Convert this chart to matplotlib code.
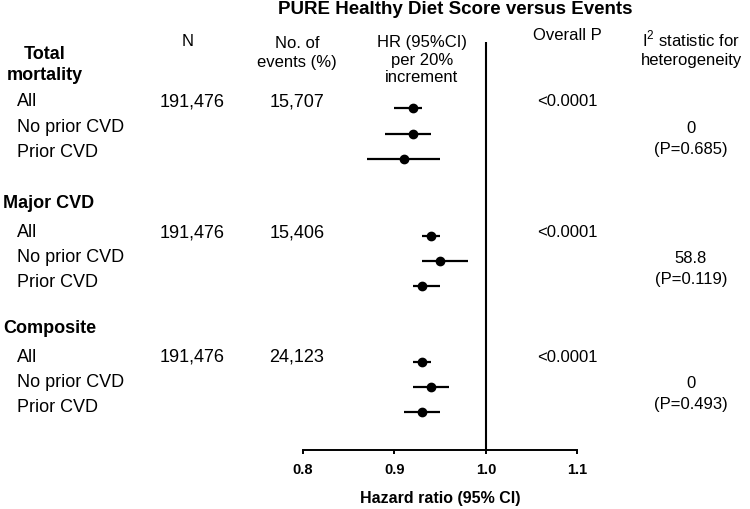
import matplotlib

matplotlib.use('Agg')

import matplotlib.pyplot as plt
import numpy as np

plt.rcParams['font.family'] = ['Liberation Sans', 'DejaVu Sans']
plt.rcParams['mathtext.fontset'] = 'custom'
plt.rcParams['mathtext.rm'] = 'Liberation Sans'

# data
groups = ['Total\nmortality', 'Major CVD', 'Composite']
subgroups = ['All', 'No prior CVD', 'Prior CVD']
hr = np.array([0.92, 0.92, 0.91, 0.94, 0.95, 0.93, 0.93, 0.94, 0.93])
hr_lo = np.array([0.90, 0.89, 0.87, 0.93, 0.93, 0.92, 0.92, 0.92, 0.91])
hr_hi = np.array([0.93, 0.94, 0.95, 0.95, 0.98, 0.95, 0.94, 0.96, 0.95])
n_total = ['191,476', '191,476', '191,476']
n_events = ['15,707', '15,406', '24,123']
overall_p = ['<0.0001', '<0.0001', '<0.0001']
i2_value = ['0', '58.8', '0']
i2_p = ['(P=0.685)', '(P=0.119)', '(P=0.493)']
x_ticks = [0.8, 0.9, 1.0, 1.1]

# layout (pixel rows, top-down)
row_y = np.array([109, 135, 160, 237, 262, 287, 363, 388, 413])
text_dy = [-7, -4, -5.5]
group_y = [65, 204, 329]

fig = plt.figure(figsize=(7.5, 5.1), dpi=100)

# overlay for the text table, in pixel units
tx = fig.add_axes([0, 0, 1, 1])
tx.set_xlim(0, 750)
tx.set_ylim(510, 0)
tx.axis('off')

# forest axes
ax = fig.add_axes([303 / 750, 59 / 510, 274.3 / 750, 451 / 510])
ax.set_xlim(0.8, 1.1)
ax.set_ylim(451, 0)
ax.patch.set_alpha(0)

ax.errorbar(hr, row_y, xerr=[hr - hr_lo, hr_hi - hr], fmt='o', color='black',
            ms=6, elinewidth=1.6, capsize=0)
ax.vlines(1.0, 43, 451, color='black', lw=1.5)

for s in ['top', 'left', 'right']:
    ax.spines[s].set_visible(False)
ax.spines['bottom'].set_linewidth(1.4)
ax.set_yticks([])
ax.set_xticks(x_ticks)
ax.set_xticklabels(['%.1f' % t for t in x_ticks], fontweight='bold', fontsize=10.5)
ax.tick_params(axis='x', direction='out', length=3, width=1.4, pad=6)
ax.set_xlabel('Hazard ratio (95% CI)', fontweight='bold', fontsize=11.5, labelpad=10)

# title and column headers
tx.text(455, 9, 'PURE Healthy Diet Score versus Events', ha='center', va='center',
        fontweight='bold', fontsize=13.5)
tx.text(188, 42, 'N', ha='center', va='center', fontsize=12)
tx.text(297, 53, 'No. of\nevents (%)', ha='center', va='center', fontsize=12,
        linespacing=1.4)
tx.text(422, 60, 'HR (95%CI)\nper 20%\nincrement', ha='center', va='center',
        fontsize=12, linespacing=1.25)
tx.text(567, 36, 'Overall P', ha='center', va='center', fontsize=12)
tx.text(691, 48, 'I$^2$ statistic for\nheterogeneity', ha='center', va='center',
        fontsize=12, linespacing=1.3)

# table body
for g, name in enumerate(groups):
    if '\n' in name:
        tx.text(45, group_y[g], name, ha='center', va='center', fontweight='bold',
                fontsize=13, multialignment='center', linespacing=1.3)
    else:
        tx.text(3, group_y[g], name, ha='left', va='center', fontweight='bold',
                fontsize=13)
    for k, sub in enumerate(subgroups):
        y = row_y[3 * g + k] + text_dy[g]
        tx.text(17, y, sub, ha='left', va='center', fontsize=13)
    y0 = row_y[3 * g] + text_dy[g]
    tx.text(192, y0, n_total[g], ha='center', va='center', fontsize=13)
    tx.text(297, y0, n_events[g], ha='center', va='center', fontsize=13)
    tx.text(567, y0, overall_p[g], ha='center', va='center', fontsize=12)
    y1 = row_y[3 * g + 1] + text_dy[g]
    tx.text(691, y1 + 1, i2_value[g], ha='center', va='center', fontsize=12)
    tx.text(691, y1 + 22, i2_p[g], ha='center', va='center', fontsize=12)

fig.savefig('out.png', dpi=100)
